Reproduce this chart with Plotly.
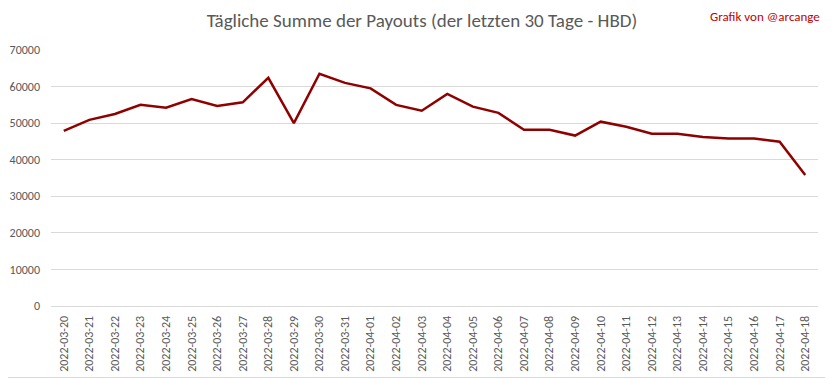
import plotly.graph_objects as go

dates = ["2022-03-20","2022-03-21","2022-03-22","2022-03-23","2022-03-24","2022-03-25",
         "2022-03-26","2022-03-27","2022-03-28","2022-03-29","2022-03-30","2022-03-31",
         "2022-04-01","2022-04-02","2022-04-03","2022-04-04","2022-04-05","2022-04-06",
         "2022-04-07","2022-04-08","2022-04-09","2022-04-10","2022-04-11","2022-04-12",
         "2022-04-13","2022-04-14","2022-04-15","2022-04-16","2022-04-17","2022-04-18"]
payouts = [47900, 50900, 52500, 55000, 54200, 56600, 54700, 55700, 62400, 50000,
           63500, 61000, 59500, 55000, 53400, 58000, 54500, 52800, 48200, 48200,
           46600, 50400, 49000, 47100, 47100, 46200, 45800, 45800, 44900, 35800]
y_ticks = [0, 10000, 20000, 30000, 40000, 50000, 60000, 70000]

title_text = "Tägliche Summe der Payouts (der letzten 30 Tage - HBD)"
credit_text = "Grafik von @arcange"

FONT = "Carlito, 'Liberation Sans Narrow', 'Liberation Sans', sans-serif"
# page body has an 8px default margin; the figure is sized to fill the rest
OFF = 8
W, H = 833 - OFF, 379 - OFF
ML, MR, MT, MB = 51 - OFF, 15, 50 - OFF, 73
pw, ph = W - ML - MR, H - MT - MB

def px_x(px):
    # px given in page (reference) coordinates
    return (px - OFF - ML) / pw

def px_y(py):
    return (H - MB - (py - OFF)) / ph

fig = go.Figure()
fig.add_trace(go.Scatter(
    x=dates, y=payouts, mode="lines",
    line=dict(color="#8f0000", width=2.5),
    hoverinfo="x+y", showlegend=False,
))

fig.update_layout(
    width=W, height=H,
    margin=dict(l=ML, r=MR, t=MT, b=MB, autoexpand=False),
    paper_bgcolor="white", plot_bgcolor="white",
    font=dict(family=FONT, color="#595959", size=12),
    title=dict(text=title_text, x=px_x(422), xref="paper", xanchor="center",
               y=1 - (20 - OFF) / H, yanchor="middle",
               font=dict(family=FONT, size=19, color="#595959")),
    xaxis=dict(type="category", range=[-0.5, len(dates) - 0.5],
               tickangle=-90, showgrid=False, showline=True,
               linecolor="#d9d9d9", linewidth=1, ticks="",
               ticklabelstandoff=4, automargin=False,
               tickfont=dict(family=FONT, size=12, color="#595959"),
               fixedrange=True),
    yaxis=dict(range=[0, 70000], tickvals=y_ticks,
               ticktext=[str(v) for v in y_ticks],
               showgrid=True, gridcolor="#d9d9d9", gridwidth=1,
               zeroline=False, showline=False, ticks="",
               ticklabelstandoff=10, automargin=False,
               tickfont=dict(family=FONT, size=12, color="#595959"),
               fixedrange=True),
    shapes=[dict(type="rect", xref="paper", yref="paper",
                 x0=px_x(0.5), x1=px_x(831.5), y0=px_y(377.5), y1=px_y(0.5),
                 line=dict(color="#d9d9d9", width=1), fillcolor="rgba(0,0,0,0)",
                 layer="below")],
    annotations=[dict(text=credit_text, xref="paper", yref="paper",
                      x=px_x(822), y=px_y(16), xanchor="right", yanchor="middle",
                      showarrow=False,
                      font=dict(family=FONT, size=13, color="#c00000"))],
)

fig.write_html("out.html")
